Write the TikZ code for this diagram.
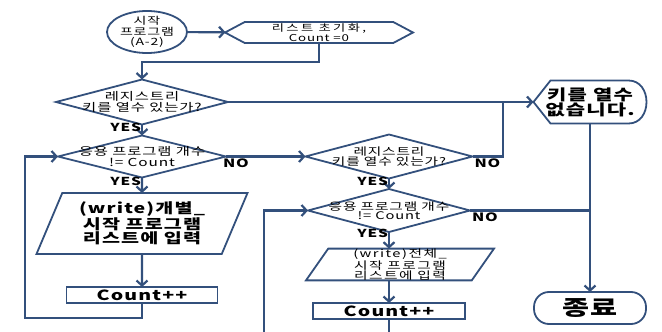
\documentclass[tikz,border=0pt]{standalone}
\usepackage{fontspec}
\setmainfont{Noto Sans CJK KR}[FakeStretch=1.4,LetterSpace=8]
\usetikzlibrary{shapes.geometric, shapes.symbols, arrows.meta, positioning, calc}

\definecolor{flowblue}{HTML}{33507C}
\newcommand\fsz[2]{\fontsize{#1}{#2}\selectfont}
\newcommand\wide[1]{\addfontfeatures{LetterSpace=#1}}

\begin{document}
\begin{tikzpicture}[
    x=1pt, y=-1pt,
    >={Straight Barb[length=5pt,width=11pt]},
    every node/.style={inner sep=0pt, outer sep=0pt, align=center, text=black},
    box/.style={draw=flowblue, line width=1.8pt},
    terminal/.style={box, ellipse},
    prep/.style={box, signal, signal to=west and east},
    decision/.style={box, diamond},
    io/.style={box, trapezium, trapezium stretches body},
    process/.style={box, rectangle},
    stopbox/.style={box, rectangle, rounded corners=15pt},
    dtext/.style={align=center, font=\fsz{11}{11.5}},
    flow/.style={draw=flowblue, line width=2.2pt, ->},
    line/.style={draw=flowblue, line width=2.2pt},
    yes/.style={font=\bfseries\fsz{11}{11}, inner sep=1pt},
    no/.style={font=\bfseries\fsz{11.5}{11.5}, inner sep=2pt}
]
\useasboundingbox (0,0) rectangle (662,332);

% -------------------------
% LEFT COLUMN
% -------------------------
\node[terminal, minimum width=80pt, minimum height=42pt,
      label={[font=\fsz{10}{10.5}]center:{시작\\프로그램\\(A-2)}}] (start) at (147,32) {};

\node[prep, minimum width=188pt, minimum height=21pt, signal pointer angle=56,
      font=\fsz{9.5}{10}] (init) at (319,32.5) {{\wide{25}리스트 초기화,}\\Count =0};

\node[decision, minimum width=172pt, minimum height=45pt,
      label={[dtext]center:{레지스트리\\키를 열수 있는가?}}] (regA) at (142,102) {};

\node[decision, minimum width=168pt, minimum height=42pt,
      label={[dtext]center:{응용 프로그램 개수\\!= Count}}] (cntA) at (142,156.5) {};

\node[io, trapezium left angle=59, trapezium right angle=121, minimum width=211pt, minimum height=61pt,
      font=\bfseries\fsz{14}{14}] (writeA) at (142,223.5) {(write)개별\_\\시작 프로그램\\리스트에 입력};

\node[process, minimum width=151pt, minimum height=16pt, font=\bfseries\fsz{14}{14}] (incA) at (142,295) {Count++};

% -------------------------
% RIGHT COLUMN
% -------------------------
\node[decision, minimum width=167pt, minimum height=44pt,
      label={[dtext, font=\fsz{10.5}{10.5}]center:{레지스트리\\키를 열수 있는가?}}] (regB) at (389,156.5) {};

\node[decision, minimum width=162pt, minimum height=43pt,
      label={[dtext, font=\fsz{10.5}{9.5}]center:{응용 프로그램 개수\\!= Count}}] (cntB) at (389,210.5) {};

\node[io, trapezium left angle=55, trapezium right angle=125, minimum width=188pt, minimum height=31pt,
      font=\fsz{10.5}{10.5}\wide{14}] (writeB) at (400,264.5) {(write)전체\_\\시작 프로그램\\리스트에 입력};

\node[process, minimum width=152pt, minimum height=16pt, font=\bfseries\fsz{14}{14}] (incB) at (389,311) {Count++};

% message and end
\node[minimum width=113pt, minimum height=43pt, font=\bfseries\fsz{15}{15}] (msg) at (590,102) {키를 열수\\없습니다.};
\draw[box] (msg.west) -- ([xshift=17pt]msg.north west) -- ([xshift=-18pt]msg.north east)
  .. controls ([xshift=6pt]msg.north east) and ([xshift=6pt]msg.south east) .. ([xshift=-18pt]msg.south east)
  -- ([xshift=17pt]msg.south west) -- cycle;

\node[stopbox, minimum width=112pt, minimum height=32pt, font=\bfseries\fsz{21}{21}] (stop) at (590,308) {종료};

\coordinate (join) at (503,102);
\coordinate (loopA) at (25,318);
\coordinate (outB) at (389,336);
\coordinate (inB) at (264,336);

% -------------------------
% CONNECTORS
% -------------------------
\draw[flow] (start) -- (init);
\draw[flow] (init.south) -- ++(0,19) -| (regA.north);
\draw[flow] (regA.east) -- (msg.west);

\draw[flow] (regA.south) -- node[yes, left, pos=0.3] {YES} (cntA.north);
\draw[flow] (cntA.east) node[no, below right, xshift=-5pt] {NO} -- (regB.west);
\draw[flow] (cntA.south) -- node[yes, left, pos=0.25] {YES} (writeA.north);
\draw[flow] (writeA.south) -- (incA.north);
\draw[flow] (incA.south) |- (loopA) |- (cntA.west);

\draw[line] (regB.east) node[no, below right] {NO} -| (join);
\draw[flow] (regB.south) -- node[yes, left, pos=0.3] {YES} (cntB.north);
\draw[line] (cntB.east) node[no, below right] {NO} -- (cntB.east -| msg.south);
\draw[flow] (cntB.south) -- node[yes, left, pos=0.1] {YES} (cntB.south |- writeB.north);
\draw[flow] (cntB.south |- writeB.south) -- (incB.north);
\draw[line] (incB.south) -- (outB);
\draw[flow] (inB) |- (cntB.west);

\draw[flow] (msg.south) -- (stop.north);

\end{tikzpicture}
\end{document}
